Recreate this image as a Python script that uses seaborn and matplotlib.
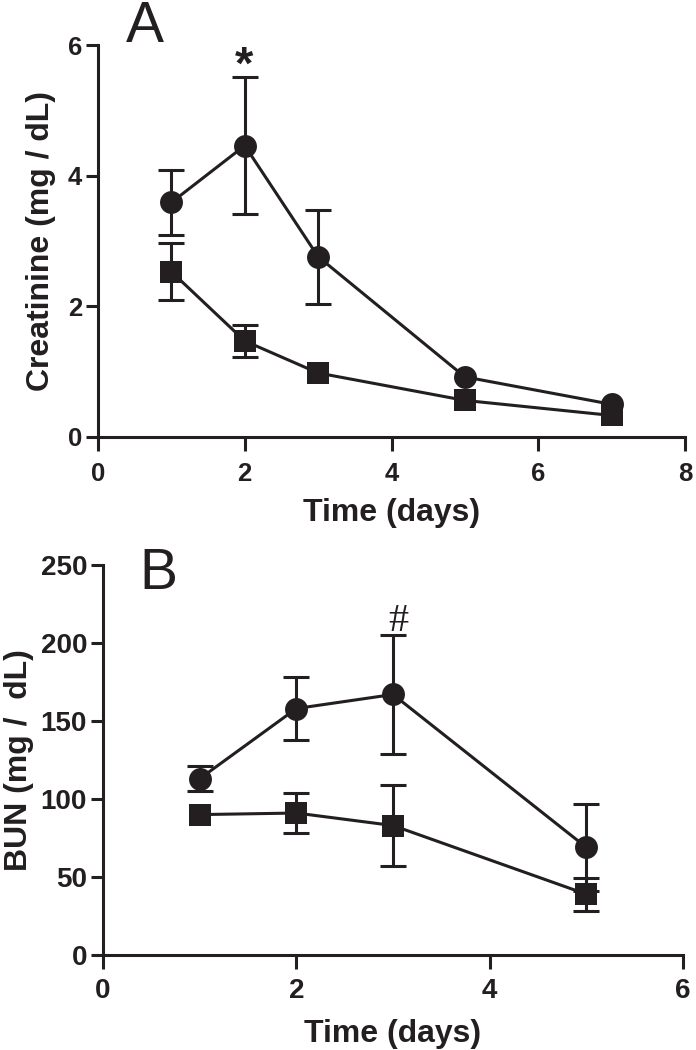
import numpy as np
import pandas as pd
import matplotlib
matplotlib.use("Agg")
import matplotlib.pyplot as plt
import seaborn as sns

# ---- data ----
days_a = [1, 2, 3, 5, 7]
creat_circle = [3.59, 4.46, 2.76, 0.92, 0.50]
creat_circle_err = [0.50, 1.05, 0.72, 0.0, 0.0]
creat_square = [2.53, 1.47, 0.98, 0.56, 0.33]
creat_square_err = [0.44, 0.25, 0.0, 0.0, 0.0]

days_b = [1, 2, 3, 5]
bun_circle = [113, 158, 167, 69]
bun_circle_err = [8, 20, 38, 28]
bun_square = [90, 91, 83, 39]
bun_square_err = [0, 13, 26, 10.5]

xticks_a = [0, 2, 4, 6, 8]
yticks_a = [0, 2, 4, 6]
xticks_b = [0, 2, 4, 6]
yticks_b = [0, 50, 100, 150, 200, 250]

sns.set_style("ticks")
plt.rcParams['font.family'] = ['Liberation Sans', 'DejaVu Sans']

INK = '#231f20'
LW = 2.2

fig = plt.figure(figsize=(6.96, 10.5), dpi=100)
axA = fig.add_axes([98/696, 1-437/1050, 587/696, 392/1050])
axB = fig.add_axes([103/696, 1-955/1050, 580/696, 390/1050])


def bars(ax, x, y, e):
    xs = [a for a, err in zip(x, e) if err > 0]
    ys = [b for b, err in zip(y, e) if err > 0]
    es = [err for err in e if err > 0]
    if xs:
        ax.errorbar(xs, ys, yerr=es, fmt='none', ecolor=INK, elinewidth=LW,
                    capsize=9.5, capthick=LW, zorder=2)


def draw(ax, x, yc, ec, ys, es):
    bars(ax, x, yc, ec)
    bars(ax, x, ys, es)
    sns.lineplot(x=x, y=yc, ax=ax, color=INK, linewidth=LW, marker='o',
                 markersize=16.5, markeredgewidth=0, zorder=3)
    sns.lineplot(x=x, y=ys, ax=ax, color=INK, linewidth=LW, marker='s',
                 markersize=15.5, markeredgewidth=0, zorder=4)


draw(axA, days_a, creat_circle, creat_circle_err, creat_square, creat_square_err)
draw(axB, days_b, bun_circle, bun_circle_err, bun_square, bun_square_err)

for ax, xt, yt, xpad, fs in [(axA, xticks_a, yticks_a, 8, 18.5),
                             (axB, xticks_b, yticks_b, 6.5, 20)]:
    ax.set_xlim(xt[0], xt[-1])
    ax.set_ylim(yt[0], yt[-1])
    ax.set_xticks(xt)
    ax.set_yticks(yt)
    sns.despine(ax=ax)
    for s in ['left', 'bottom']:
        ax.spines[s].set_linewidth(LW)
        ax.spines[s].set_color(INK)
    ax.tick_params(axis='y', length=8.5, width=LW, color=INK, pad=3,
                   labelsize=fs, labelcolor=INK)
    ax.tick_params(axis='x', length=10, width=LW, color=INK, pad=xpad,
                   labelsize=fs, labelcolor=INK)
    for lab in ax.get_xticklabels() + ax.get_yticklabels():
        lab.set_fontweight('bold')
    ax.set_facecolor('none')

LFS = 23
axA.set_xlabel('Time (days)', fontsize=LFS, fontweight='bold', color=INK)
axA.set_ylabel('Creatinine (mg / dL)', fontsize=LFS, fontweight='bold', color=INK)
axB.set_xlabel('Time (days)', fontsize=LFS, fontweight='bold', color=INK)
axB.set_ylabel('BUN (mg /  dL)', fontsize=LFS, fontweight='bold', color=INK)
for ax, xl, yl in [(axA, -0.195, -0.097), (axB, -0.203, -0.145)]:
    ax.xaxis.label.set_va('center')
    ax.yaxis.label.set_va('center')
    ax.xaxis.set_label_coords(0.5, xl)
    ax.yaxis.set_label_coords(yl, 0.5)

axA.text(1.99, 5.48, '*', ha='center', va='baseline', fontsize=34,
         fontweight='bold', color=INK)
axB.text(3.05, 208, '#', ha='center', va='baseline', fontsize=29,
         family=['Liberation Serif', 'DejaVu Serif'], color=INK)

fig.text(126/696, 1-42/1050, 'A', fontsize=41, ha='left', va='baseline', color=INK)
fig.text(139/696, 1-589/1050, 'B', fontsize=41, ha='left', va='baseline', color=INK)

fig.savefig('out.png', dpi=100)
